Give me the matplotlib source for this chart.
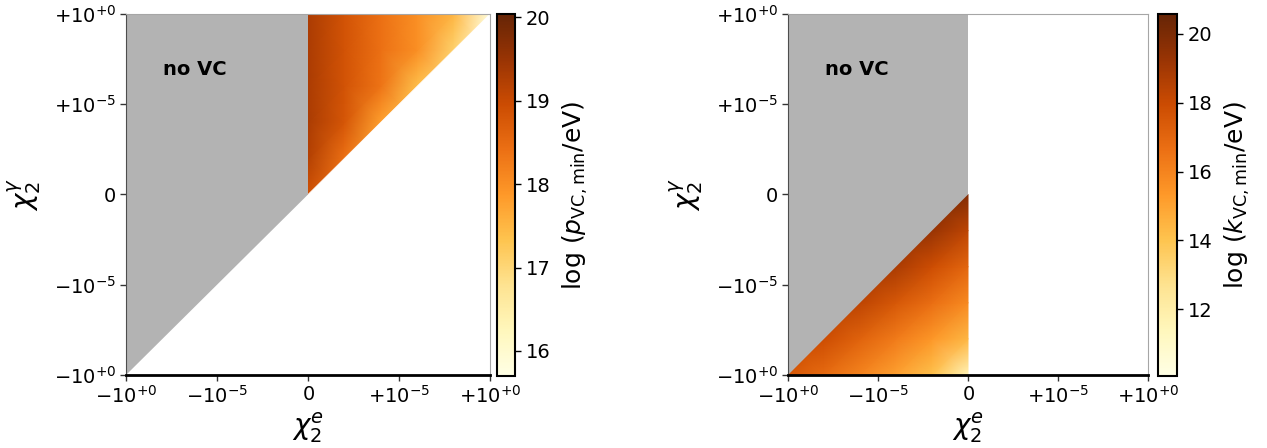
import matplotlib
matplotlib.use("Agg")
import matplotlib.pyplot as plt
import numpy as np
from matplotlib.ticker import FuncFormatter, NullLocator

# ---- data ----
axis_ticks = [-1, -1e-5, 0, 1e-5, 1]

# left panel: log p_VC,min on a coarse grid (x >= 0, y >= 0)
left_x = [0, 1e-8, 1e-6, 1e-4, 1e-2, 1]
left_y = [0, 1e-8, 1e-6, 1e-4, 1e-2, 1]
left_vals = [  # rows: y from 0 up to 1
    [18.9, 18.3, 17.6, 17.3, 17.0, 15.8],
    [19.2, 18.4, 17.6, 17.3, 17.0, 15.8],
    [19.3, 18.8, 17.8, 17.3, 17.0, 15.8],
    [19.3, 18.85, 18.35, 17.4, 17.0, 15.8],
    [19.3, 18.85, 18.4, 18.0, 17.1, 15.8],
    [19.3, 18.85, 18.4, 18.0, 17.5, 15.8],
]
left_range = (15.70, 20.04)

# right panel: log k_VC,min on a coarse grid (x <= 0, y <= 0)
right_x = [-1, -1e-2, -1e-4, -1e-6, -1e-8, 0]
right_y = [-1, -1e-2, -1e-4, -1e-6, -1e-8, 0]
right_vals = [  # rows: y from -1 up to 0
    [17.5, 16.8, 16.0, 15.1, 14.1, 11.5],
    [18.0, 17.9, 17.1, 16.3, 15.4, 14.4],
    [18.5, 18.5, 18.3, 17.5, 16.7, 15.8],
    [19.0, 19.0, 19.0, 18.8, 17.9, 17.0],
    [19.5, 19.5, 19.5, 19.5, 19.3, 18.3],
    [20.0, 20.0, 20.0, 20.0, 20.0, 19.8],
]
right_range = (10.06, 20.58)

left_cbar_ticks = [16, 17, 18, 19, 20]
right_cbar_ticks = [12, 14, 16, 18, 20]

# no-VC region (same in both panels)
novc_x = [-1, 0, 0, -1]
novc_y = [-1, 0, 1, 1]

plt.rcParams["font.family"] = "DejaVu Sans"
plt.rcParams["mathtext.fontset"] = "dejavusans"

W, H = 1267, 448
fig = plt.figure(figsize=(W / 100, H / 100), dpi=100)


def px(l, r, t, b):
    return [l / W, 1 - b / H, (r - l) / W, (b - t) / H]


def tick_fmt(v, pos):
    if v == 0:
        return "$0$"
    sign = "+" if v > 0 else "-"
    e = int(round(np.log10(abs(v))))
    esign = "+" if e >= 0 else "-"
    return rf"${sign}10^{{{esign}{abs(e)}}}$"


def setup_axes(ax):
    for name in ("x", "y"):
        getattr(ax, f"set_{name}scale")("symlog", linthresh=1e-9, linscale=0.9)
    ax.set_xlim(-1, 1)
    ax.set_ylim(-1, 1)
    ax.set_xticks(axis_ticks)
    ax.set_yticks(axis_ticks)
    ax.xaxis.set_major_formatter(FuncFormatter(tick_fmt))
    ax.yaxis.set_major_formatter(FuncFormatter(tick_fmt))
    ax.xaxis.set_minor_locator(NullLocator())
    ax.yaxis.set_minor_locator(NullLocator())
    ax.tick_params(labelsize=14, length=4, width=1, color="0.2", pad=3)
    ax.spines["top"].set_color("0.65")
    ax.spines["right"].set_color("0.65")
    ax.spines["top"].set_linewidth(0.8)
    ax.spines["right"].set_linewidth(0.8)
    ax.spines["left"].set_color("0.3")
    ax.spines["left"].set_linewidth(0.8)
    ax.spines["bottom"].set_color("black")
    ax.spines["bottom"].set_linewidth(2)
    ax.set_xlabel(r"$\chi_2^{e}$", fontsize=20, labelpad=3)
    ax.set_ylabel(r"$\chi_2^{\gamma}$", fontsize=20, labelpad=8)
    ax.fill(novc_x, novc_y, color="#b3b3b3", lw=0, zorder=1.5)
    ax.text(0.19, 0.845, "no VC", transform=ax.transAxes, fontsize=14,
            fontweight="bold", ha="center", va="center", zorder=3)


def style_cbar(cb, ticks, label):
    cb.set_ticks(ticks)
    cb.ax.tick_params(labelsize=14, length=4, width=1)
    cb.outline.set_linewidth(1.5)
    cb.set_label(label, fontsize=18, labelpad=8)


# left panel
ax1 = fig.add_axes(px(126, 490, 14, 375))
cax1 = fig.add_axes(px(497, 515, 14, 376))
setup_axes(ax1)
X, Y = np.meshgrid(left_x, left_y)
m1 = ax1.pcolormesh(X, Y, np.array(left_vals), shading="gouraud", cmap="YlOrBr",
                    vmin=left_range[0], vmax=left_range[1], zorder=1)
ax1.fill([0, 1, 1, 0], [0, 1, -1, -1], color="white", lw=0.5, ec="white", zorder=1.2)
cb1 = fig.colorbar(m1, cax=cax1)
style_cbar(cb1, left_cbar_ticks, r"$\log\,(p_{\mathrm{VC,min}}/\mathrm{eV})$")

# right panel
ax2 = fig.add_axes(px(788, 1148, 14, 375))
cax2 = fig.add_axes(px(1158, 1177, 14, 376))
setup_axes(ax2)
X, Y = np.meshgrid(right_x, right_y)
m2 = ax2.pcolormesh(X, Y, np.array(right_vals), shading="gouraud", cmap="YlOrBr",
                    vmin=right_range[0], vmax=right_range[1], zorder=1)
cb2 = fig.colorbar(m2, cax=cax2)
style_cbar(cb2, right_cbar_ticks, r"$\log\,(k_{\mathrm{VC,min}}/\mathrm{eV})$")

fig.savefig("out.png", dpi=100)
